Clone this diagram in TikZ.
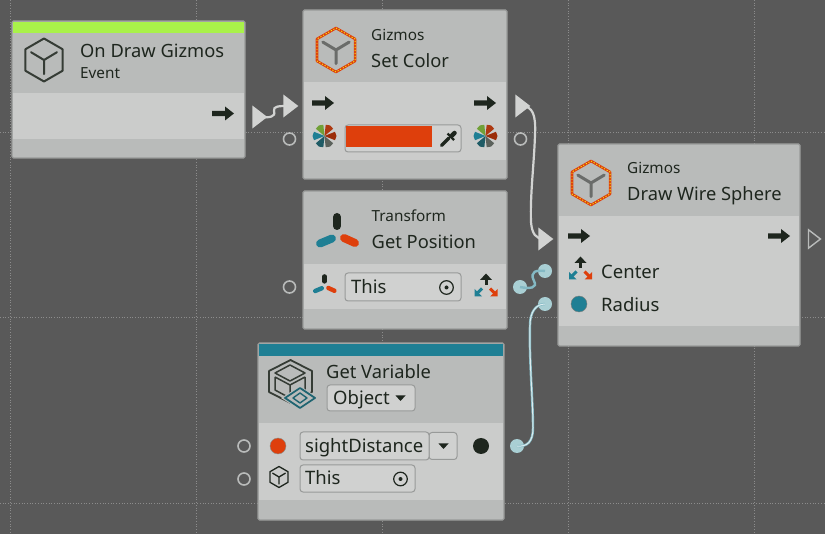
\documentclass[tikz,border=0pt]{standalone}
\usepackage{fontspec}
\setmainfont{Noto Sans}
\usetikzlibrary{shapes.geometric}
\definecolor{bgc}{HTML}{595959}
\definecolor{gridc}{HTML}{8C8C8C}
\definecolor{headc}{HTML}{B9BBBA}
\definecolor{bandc}{HTML}{CBCCCB}
\definecolor{edgec}{HTML}{989A99}
\definecolor{inkc}{HTML}{1E261E}
\definecolor{limec}{HTML}{A9F24A}
\definecolor{tealc}{HTML}{1F7F94}
\definecolor{redc}{HTML}{DE3F0C}
\definecolor{portc}{HTML}{D2D3D2}
\definecolor{dotc}{HTML}{A9CFD4}
\definecolor{fieldc}{HTML}{D0D1D0}
\definecolor{yarmc}{HTML}{6A6C6A}
\tikzset{
  x=1pt,y=-1pt,
  panel/.style={draw=edgec,line width=1.2,fill=headc,rounded corners=1.5,inner sep=0,outer sep=0},
  band/.style={fill=bandc,inner sep=0,outer sep=0},
  bar/.style={inner sep=0,outer sep=0},
  title/.style={anchor=west,inner sep=0,text=inkc,text height=15,text depth=0,font=\fontsize{18.3}{20}\selectfont},
  sub/.style={anchor=west,inner sep=0,text=inkc,text height=11,text depth=0,font=\fontsize{15.3}{17}\selectfont},
  field/.style={draw=edgec,line width=1,fill=fieldc,rounded corners=3,inner sep=0,outer sep=0},
  ftext/.style={anchor=west,inner sep=0,text=inkc,text height=13,text depth=0,font=\fontsize{18.5}{21}\selectfont},
  ring/.style={circle,draw=headc,line width=1.6,fill=none,minimum size=12,inner sep=0},
  tri/.style={isosceles triangle,isosceles triangle apex angle=75,fill=portc,draw=none,minimum height=15,minimum width=19,inner sep=0,outer sep=0},
  hollowtri/.style={tri,fill=none,draw=headc,line width=1.4,minimum height=12,minimum width=16},
  vport/.style={circle,fill=dotc,minimum size=14,inner sep=0,outer sep=0},
  vdot/.style={circle,minimum size=16,inner sep=0,outer sep=0},
  wire/.style={draw=portc,line width=2.2},
  tealwire/.style={draw=tealc!55!white,line width=2.4},
  grid line/.style={draw=gridc,line width=.7,dotted},
  pics/execarrow/.style={code={
    \fill[inkc] (-11,-2.6)--(2,-2.6)--(2,-7)--(11,0)--(2,7)--(2,2.6)--(-11,2.6)--cycle;}},
  pics/hexcube/.style n args={4}{code={
    \draw[#2,line width=#4,line join=round] (0,-#1)--(.866*#1,-.5*#1)--(.866*#1,.5*#1)--(0,#1)--(-.866*#1,.5*#1)--(-.866*#1,-.5*#1)--cycle;
    \draw[#3,line width=#4,line cap=round] (0,0)--(0,.66*#1) (0,0)--(.6*#1,-.36*#1) (0,0)--(-.6*#1,-.36*#1);}},
  pics/hotcube/.style={code={
    \draw[redc,line width=2.6,line join=round] (0,-#1)--(.866*#1,-.5*#1)--(.866*#1,.5*#1)--(0,#1)--(-.866*#1,.5*#1)--(-.866*#1,-.5*#1)--cycle;
    \draw[yellow!85!limec,line width=.9,dash pattern=on 1.2 off 1.8] (0,-#1)--(.866*#1,-.5*#1)--(.866*#1,.5*#1)--(0,#1)--(-.866*#1,.5*#1)--(-.866*#1,-.5*#1)--cycle;
    \draw[yarmc,line width=3,line cap=round] (0,0)--(0,.62*#1) (0,0)--(.6*#1,-.36*#1) (0,0)--(-.6*#1,-.36*#1);}},
  pics/colorpie/.style={code={
    \foreach \a/\c in {-118/limec!60!inkc,-62/redc!75!inkc,0/redc!70!black,62/inkc!60!headc,118/tealc!60!inkc,180/tealc}{
      \fill[\c] (0,0)--(\a-22:11.3)--(\a:12)--(\a+22:11.3)--cycle;}}},
  pics/moveicon/.style={code={
    \draw[inkc,line width=3] (0,-2)--(0,-8);
    \fill[inkc] (-6,-7)--(0,-13.5)--(6,-7)--cycle;
    \draw[tealc,line width=3] (-9,6.5)--(-4,1.5);
    \fill[tealc] (-11.5,9.5)--(-11.5,2)--(-4,9.5)--cycle;
    \draw[redc,line width=3] (9,6.5)--(4,1.5);
    \fill[redc] (11.5,9.5)--(11.5,2)--(4,9.5)--cycle;}},
  pics/targeticon/.style={code={
    \draw[inkc,line width=1.2] (0,0) circle[radius=6.8];
    \fill[inkc] (0,0) circle[radius=2];}},
  pics/dropmark/.style={code={
    \fill[inkc] (-5,-2.5)--(5,-2.5)--(0,3)--cycle;}},
  pics/axes/.style={code={
    \draw[inkc,line width=#1*8,line cap=round] (0,-#1*21)--(0,-#1*12);
    \draw[tealc,line width=#1*8,line cap=round] (-#1*5,#1*0.5)--(-#1*17,#1*5.5);
    \draw[redc,line width=#1*8,line cap=round] (#1*7,#1*0)--(#1*18,#1*5);}},
}
\begin{document}
\begin{tikzpicture}
\useasboundingbox (0,0) rectangle (825,534);
\fill[bgc] (0,0) rectangle (825,534);
% grid
\foreach \gx in {10,196,382,568,754}{\draw[grid line] (\gx,0)--(\gx,534);}
\foreach \gy in {132,317.5,503}{\draw[grid line] (0,\gy)--(825,\gy);}

% panels
\node[panel,minimum width=233,minimum height=137] (evt) at (128.5,89.5) {};
\node[bar,fill=limec,minimum width=231,minimum height=11] at (128.5,28) {};
\node[band,minimum width=231,minimum height=46] at (128.5,116) {};

\node[panel,minimum width=204,minimum height=169] (col) at (405,94.5) {};
\node[band,minimum width=202,minimum height=78] at (405,121) {};

\node[panel,minimum width=204,minimum height=138] (pos) at (405,260) {};
\node[band,minimum width=202,minimum height=45] at (405,286.5) {};

\node[panel,minimum width=242,minimum height=202] (sph) at (679,245) {};
\node[band,minimum width=240,minimum height=110] at (679,271) {};

\node[panel,minimum width=246,minimum height=177] (var) at (381,431.5) {};
\node[bar,fill=tealc,minimum width=244,minimum height=12] at (381,350) {};
\node[band,minimum width=244,minimum height=77] at (381,461.5) {};

% ports
\node[tri] (evtout) at (258,117) {};
\node[tri] (colin) at (289,106) {};
\node[tri] (colout) at (521,106) {};
\node[tri] (sphin) at (544,239) {};
\node[hollowtri] (sphout) at (813,239) {};
\node[ring] (colr) at (289.5,139) {};
\node[ring] (color) at (520.5,139) {};
\node[ring] (posr) at (289.5,287) {};
\node[ring] (varr) at (244,446) {};
\node[ring] (varrb) at (244,479) {};
\node[vport] (posout) at (520,287) {};
\node[vport] (cenin) at (545,271) {};
\node[vport] (radin) at (545,304) {};
\node[vport] (varout) at (517,446) {};

% connectors
\draw[wire] (evtout.center) .. controls (270,118) and (276,117) .. (274,111) .. controls (273,106) and (279,106) .. (colin.center);
\draw[wire] (colout.center) .. controls (533,106) and (536,115) .. (535,135) .. controls (534,165) and (530,195) .. (531,222) .. controls (532,234) and (536,239) .. (sphin.center);
\draw[tealwire] (posout.center) .. controls (530,289) and (538,288) .. (534,281) .. controls (529,271) and (537,270) .. (cenin.center);
\draw[tealwire] (varout.center) .. controls (527,447) and (533,442) .. (533,428) .. controls (533,400) and (529,360) .. (530,325) .. controls (530,312) and (536,304) .. (radin.center);
\draw[draw=white!85!tealc,line width=1] (varout.center) .. controls (527,447) and (533,442) .. (533,428) .. controls (533,400) and (529,360) .. (530,325) .. controls (530,312) and (536,304) .. (radin.center);

% event node
\pic at (44,60) {hexcube={21.5}{inkc!85!headc}{inkc!85!headc}{2}};
\node[title] (evttitle) at (80,50) {On Draw Gizmos};
\node[sub] (evtsub) at (80,73) {Event};
\pic at (223,113.5) {execarrow};

% set color
\pic at (336,50) {hotcube=22};
\node[sub] (coltop) at (371,35) {Gizmos};
\node[title] (coltitle) at (371,60) {Set Color};
\pic at (323,103) {execarrow};
\pic at (485,103) {execarrow};
\pic at (324.5,136) {colorpie};
\pic at (485.5,136) {colorpie};
\node[field,minimum width=116,minimum height=27] (colfield) at (403,138.5) {};
\fill[redc] (346,126) rectangle (432,147);
\draw[inkc,line width=3.4,line cap=round] (441.5,145.5)--(449,138);
\draw[inkc,line width=2.4] (447.5,133.5)--(454,140);
\draw[inkc,line width=4.5,line cap=round] (452,135.5)--(454.5,133);

% get position
\pic at (337,238) {axes=1};
\node[sub] (postop) at (371.5,216) {Transform};
\node[title] (postitle) at (371.5,241) {Get Position};
\pic at (324.5,288) {axes=.55};
\node[field,minimum width=116,minimum height=28] (posfield) at (403,287) {};
\node[ftext] (posthis) at (351,287) {This};
\pic at (446.5,287.5) {targeticon};
\pic at (486,287) {moveicon};

% sphere
\pic at (591,183) {hotcube=22};
\node[sub] (sphtop) at (627,168) {Gizmos};
\node[title] (sphtitle) at (627,193) {Draw Wire Sphere};
\pic at (579,236) {execarrow};
\pic at (779,236) {execarrow};
\pic at (580.5,270) {moveicon};
\node[ftext] (center) at (601,272) {Center};
\node[vdot,fill=tealc,draw=inkc!40!headc] (radiusdot) at (579,304) {};
\node[ftext] (radius) at (601,305) {Radius};

% get variable
\draw[inkc!85!headc,line width=1.8,line join=round] (290.5,360)--(312,371)--(312,392)--(290.5,403)--(269,392)--(269,371)--cycle;
\draw[inkc!85!headc,line width=1.5,line join=round] (290,365)--(305,373)--(290,381)--(275,373)--cycle;
\draw[inkc!85!headc,line width=1.5,line join=round] (275,377)--(275,390)--(288,397) (290,385)--(290,395) (305,377)--(305,390) (290,385)--(275,377) (290,385)--(305,377);
\fill[headc] (300,386)--(319,398)--(300,410)--(281,398)--cycle;
\draw[tealc!70!inkc,line width=1.8,line join=round] (300,388)--(315,398)--(300,408)--(285,398)--cycle;
\draw[tealc!70!inkc,line width=1.4,line join=round] (300,393)--(307,398)--(300,403)--(293,398)--cycle;
\node[title] (vartitle) at (326,371) {Get Variable};
\node[field,minimum width=88,minimum height=26] (vartype) at (371,398) {};
\node[ftext] (vartypetext) at (333,398) {Object};
\pic at (400.5,398) {dropmark};
\node[vdot,fill=redc,draw=inkc!30!headc] (reddot) at (278,446) {};
\node[field,minimum width=28,minimum height=27] (vardrop) at (443,446) {};
\pic at (443.5,446) {dropmark};
\node[field,minimum width=129,minimum height=28] (varname) at (364.5,446) {};
\node[ftext] (varnametext) at (305,446.5) {sightDistance};
\node[vdot,fill=inkc] (blackdot) at (481,446) {};
\pic at (279,477) {hexcube={10.5}{inkc}{inkc}{1.3}};
\node[field,minimum width=115,minimum height=27] (varfield) at (357.5,478.5) {};
\node[ftext] (varthis) at (305,478) {This};
\pic at (400.5,479) {targeticon};
\end{tikzpicture}
\end{document}
